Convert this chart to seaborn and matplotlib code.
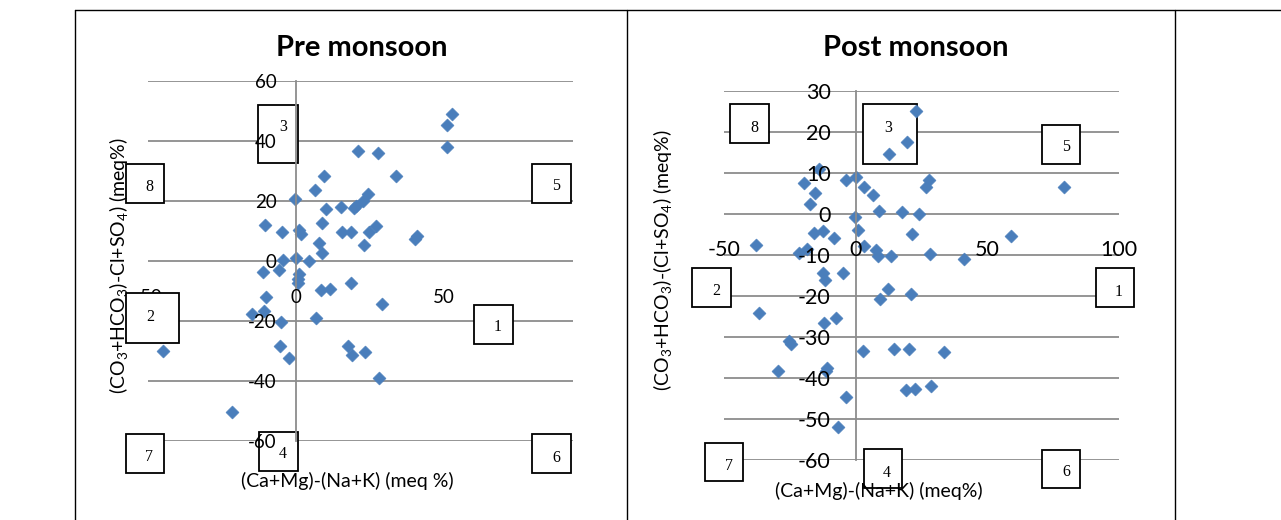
import matplotlib
matplotlib.use("Agg")
import matplotlib.pyplot as plt
import pandas as pd
import seaborn as sns
from matplotlib.patches import Rectangle
from matplotlib.lines import Line2D

# values
pre_x = [20.8, 27.5, 33.6, 9.4, 6.5, -0.2, 24.3, 22.5, 20.3, 19.4, 15.2, 10.2,
         -10.4, -4.7, 1.1, 1.7, 8.8, 15.6, 18.7, 24.6, 27.1, 40.8, 40.0, 7.7,
         23.1, 8.8, -4.5, 0.0, 4.2, -11.3, -5.7, 1.1, 0.5, 0.6, 8.5, 11.4,
         18.4, 29.0, -10.2, -15.0, -10.9, -5.1, 6.8, -5.3, -2.5, 17.5, 18.8,
         23.4, 28.0, -44.9, -21.5, 52.5, 50.9, 50.8]
pre_y = [36.7, 35.9, 28.4, 28.5, 23.7, 20.7, 22.3, 20.1, 18.4, 17.6, 17.9, 17.3,
         12.0, 9.8, 10.2, 9.1, 12.7, 9.6, 9.8, 9.6, 11.8, 8.3, 7.4, 6.1,
         5.2, 2.8, 0.5, 1.0, 0.0, -3.6, -3.1, -4.2, -5.9, -7.2, -9.5, -9.2,
         -7.2, -14.4, -11.9, -17.5, -16.6, -20.2, -19.1, -28.2, -32.4, -28.2, -31.3,
         -30.4, -39.0, -29.9, -50.4, 49.1, 45.3, 38.1]

post_x = [23.0, 19.6, 12.6, -13.9, -19.6, -15.5, -17.4, -3.5, 0.3, 3.1, 6.6, 8.8,
          17.7, 24.2, 27.8, 26.8, -0.4, 0.9, 21.3, -15.9, -12.4, -8.2, -37.9, -21.4,
          -18.6, 3.1, 7.6, 8.5, 13.6, 28.3, 41.0, -12.4, -5.0, -11.7, 12.1, 9.4,
          21.1, -36.7, -12.0, -7.6, -25.3, -24.4, -29.4, -10.9, -11.1, -3.8, -6.7,
          2.8, 14.4, 20.2, 33.5, 19.0, 22.6, 28.7, 79.3, 59.1]
post_y = [25.0, 17.6, 14.6, 10.9, 7.5, 5.0, 2.4, 8.3, 9.0, 6.7, 4.6, 0.8,
          0.6, -0.1, 8.3, 6.7, -0.8, -3.9, -4.9, -4.6, -4.1, -5.8, -7.6, -9.4,
          -8.6, -7.8, -8.8, -10.2, -10.2, -9.8, -11.0, -14.3, -14.5, -16.1, -18.4, -20.8,
          -19.5, -24.2, -26.7, -25.4, -30.9, -31.7, -38.2, -37.6, -38.4, -44.6, -51.9,
          -33.3, -32.9, -32.9, -33.7, -42.9, -42.8, -42.0, 6.5, -5.3]

pre_xticks = [-50, 0, 50]
pre_yticks = [-60, -40, -20, 0, 20, 40, 60]
post_xticks = [-50, 0, 50, 100]
post_yticks = [-60, -50, -40, -30, -20, -10, 0, 10, 20, 30]

W, H = 1281, 520
BLUE = "#4A7EBB"
GRID = "#8C8C8C"

sns.set_theme(style="white")
plt.rcParams["font.family"] = ["Lato", "DejaVu Sans"]
plt.rcParams["mathtext.default"] = "regular"
plt.rcParams["axes.unicode_minus"] = False
plt.rcParams["text.color"] = "black"
plt.rcParams["axes.labelcolor"] = "black"

fig = plt.figure(figsize=(W / 100, H / 100), dpi=100)


def px_axes(x0, y0, x1, y1):
    return fig.add_axes([x0 / W, 1 - y1 / H, (x1 - x0) / W, (y1 - y0) / H])


def panel(ax, xs, ys, xticks, yticks, xlim, tsize, ypad, xpad):
    df = pd.DataFrame({"x": xs, "y": ys})
    sns.scatterplot(data=df, x="x", y="y", ax=ax, marker="D", s=44,
                    color=BLUE, edgecolor=BLUE, linewidth=0.4, zorder=2)
    ax.set_xlim(*xlim)
    ax.set_ylim(min(yticks), max(yticks))
    ax.set_xticks(xticks)
    ax.set_yticks(yticks)
    for v in yticks:
        ax.axhline(v, color=GRID, lw=1.3, zorder=0.6)
    for s in ["top", "right"]:
        ax.spines[s].set_visible(False)
    ax.spines["left"].set_position(("data", 0))
    ax.spines["left"].set_color(GRID)
    ax.spines["left"].set_linewidth(1.3)
    ax.spines["bottom"].set_position(("data", 0))
    ax.spines["bottom"].set_color("none")
    ax.tick_params(axis="both", length=0, labelsize=tsize, colors="black")
    ax.tick_params(axis="y", pad=ypad)
    ax.tick_params(axis="x", pad=xpad)
    ax.set_axisbelow(False)
    ax.patch.set_alpha(0)


def boxes(ax, specs, top_labels=()):
    for lab, x0, y0, x1, y1, tx, ty in specs:
        z = 3 if lab in top_labels else 0.8
        ax.add_patch(Rectangle((x0 / W, 1 - y1 / H), (x1 - x0) / W, (y1 - y0) / H,
                               transform=fig.transFigure, clip_on=False,
                               facecolor="white", edgecolor="black", lw=1.3, zorder=z))
        ax.text(tx / W, 1 - ty / H, lab, transform=fig.transFigure, ha="center",
                va="center", fontsize=11.5, family="Liberation Serif", zorder=z + 0.1)


# ---- Pre monsoon
ax1 = px_axes(148, 81, 573, 441)
panel(ax1, pre_x, pre_y, pre_xticks, pre_yticks, (-50, 93.5), 13.5, 14, 20.5)
boxes(ax1, [
    ("8", 126, 164, 164, 203, 149, 187),
    ("3", 258, 105, 298, 163, 283, 127),
    ("5", 532, 164, 571, 203, 556, 186),
    ("2", 126, 293, 179, 343, 150, 317),
    ("1", 474, 305, 513, 344, 498, 327),
    ("7", 126, 434, 164, 473, 149, 457),
    ("4", 259, 432, 298, 471, 283, 454),
    ("6", 532, 434, 571, 473, 556, 458),
], top_labels=("2",))
ax1.set_xlabel("(Ca+Mg)-(Na+K) (meq %)", fontsize=14, va="center")
ax1.xaxis.set_label_coords((347 - 148) / 425, (441 - 481) / 360)
ax1.set_ylabel("(CO$_3$+HCO$_3$)-Cl+SO$_4$) (meq%)", fontsize=14, va="center")
ax1.yaxis.set_label_coords((118 - 148) / 425, (441 - 266) / 360)
fig.text(362 / W, 1 - 48 / H, "Pre monsoon", ha="center", va="center",
         fontsize=21, fontweight="bold")

# ---- Post monsoon
ax2 = px_axes(724, 91, 1119, 460)
panel(ax2, post_x, post_y, post_xticks, post_yticks, (-50, 100), 15.5, 18, 18.5)
boxes(ax2, [
    ("8", 730, 104, 769, 143, 754, 128),
    ("3", 863, 104, 917, 164, 888, 128),
    ("5", 1042, 125, 1080, 164, 1066, 147),
    ("2", 692, 268, 731, 307, 716, 291),
    ("1", 1096, 268, 1134, 307, 1119, 292),
    ("7", 705, 443, 743, 481, 729, 466),
    ("4", 864, 449, 902, 488, 887, 473),
    ("6", 1042, 450, 1080, 488, 1066, 472),
])
ax2.set_xlabel("(Ca+Mg)-(Na+K) (meq%)", fontsize=14, va="center")
ax2.xaxis.set_label_coords((879 - 724) / 395, (460 - 491) / 369)
ax2.set_ylabel("(CO$_3$+HCO$_3$)-(Cl+SO$_4$) (meq%)", fontsize=14, va="center")
ax2.yaxis.set_label_coords((663 - 724) / 395, (460 - 260) / 369)
fig.text(916 / W, 1 - 48 / H, "Post monsoon", ha="center", va="center",
         fontsize=21, fontweight="bold")

# table cell borders around the two charts
for xv in [75, 627, 1175]:
    fig.add_artist(Line2D([xv / W, xv / W], [0, 1 - 10 / H], color="black", lw=1))
fig.add_artist(Line2D([75 / W, 1], [1 - 10 / H, 1 - 10 / H], color="black", lw=1))

fig.savefig("out.png", dpi=100)
